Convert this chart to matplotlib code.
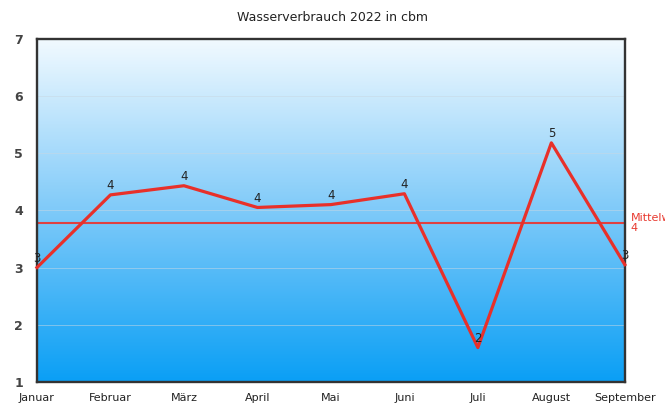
import numpy as np
import matplotlib.pyplot as plt
from matplotlib.colors import LinearSegmentedColormap

monate = ['Januar', 'Februar', 'März', 'April', 'Mai', 'Juni', 'Juli', 'August', 'September']
verbrauch = [3.0, 4.27, 4.43, 4.05, 4.10, 4.29, 1.60, 5.18, 3.05]
titel = 'Wasserverbrauch 2022 in cbm'

mittel = np.mean(verbrauch)
x = np.arange(len(monate))

fig = plt.figure(figsize=(6.65, 4.08), dpi=100)
ax = fig.add_axes([0.0556, 0.064, 0.884, 0.841])

# Hintergrund-Verlauf
cmap = LinearSegmentedColormap.from_list('wasser', ['#0a9ff5', '#7fcaf9', '#f2faff'])
grad = np.linspace(0, 1, 256).reshape(-1, 1)
ax.imshow(grad, cmap=cmap, origin='lower', aspect='auto',
          extent=[0, len(monate) - 1, 1, 7], zorder=0)

for yy in range(2, 7):
    ax.axhline(yy, color='#c8d8e4', lw=0.6, alpha=0.6, zorder=1)

ax.plot(x, verbrauch, color='#e8302a', lw=2.3, zorder=3, clip_on=False)
ax.axhline(mittel, color='#e04040', lw=1.5, zorder=2)

for xi, v in zip(x, verbrauch):
    ax.text(xi, v + 0.05, f'{round(v)}', ha='center', va='bottom',
            fontsize=8.5, color='#222222', zorder=4)

# Mittelwert-Beschriftung (wie im Original am Rand abgeschnitten)
ax.text(len(monate) - 1 + 0.08, mittel, f'Mittelwert\n{round(mittel)}',
        color='#e83a30', fontsize=8, ha='left', va='center', linespacing=0.95,
        clip_on=False)

ax.set_xlim(0, len(monate) - 1)
ax.set_ylim(1, 7)
ax.set_xticks(x)
ax.set_xticklabels(monate, fontsize=8, color='#222222')
ax.set_yticks(range(1, 8))
ax.set_yticklabels(range(1, 8), fontsize=9, color='#444444', fontweight='bold')
ax.tick_params(axis='x', length=0, pad=8)
ax.tick_params(axis='y', length=0, pad=10)

for s in ax.spines.values():
    s.set_linewidth(1.7)
    s.set_color('#333333')

fig.text(0.5, 0.958, titel, ha='center', va='center', fontsize=9, color='#222222')

plt.savefig('out.png', dpi=100)
